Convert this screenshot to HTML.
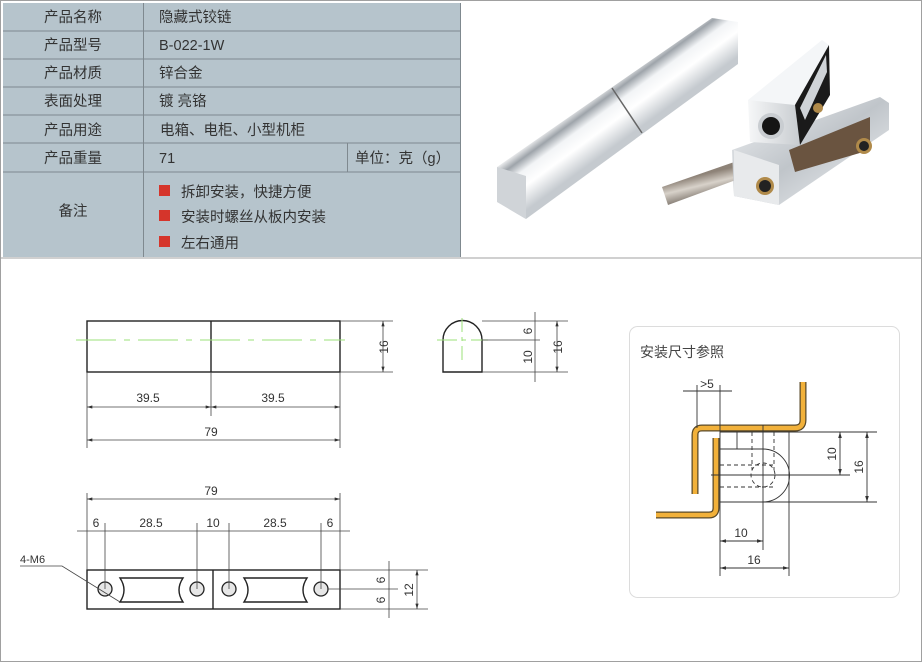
<!DOCTYPE html>
<html><head><meta charset="utf-8"><style>
body{margin:0;background:#fff;width:922px;height:662px;overflow:hidden;font-family:"Liberation Sans","Noto Sans CJK SC",sans-serif}
svg{position:absolute;left:0;top:0}
</style></head><body>
<svg width="922" height="662" viewBox="0 0 922 662" font-family="Liberation Sans, Noto Sans CJK SC, sans-serif">
<defs>
<linearGradient id="cyl" gradientUnits="userSpaceOnUse" x1="590" y1="80" x2="630" y2="135"><stop offset="0" stop-color="#d8dce0"/><stop offset="0.2" stop-color="#ffffff"/><stop offset="0.35" stop-color="#9ea4aa"/><stop offset="0.5" stop-color="#f2f4f6"/><stop offset="0.7" stop-color="#ffffff"/><stop offset="1" stop-color="#c5cacf"/></linearGradient>
<linearGradient id="m2" x1="0" y1="0" x2="1" y2="1"><stop offset="0" stop-color="#f0f2f4"/><stop offset="0.5" stop-color="#c0c5ca"/><stop offset="1" stop-color="#f4f6f8"/></linearGradient>
<linearGradient id="m3" x1="0" y1="0" x2="1" y2="0"><stop offset="0" stop-color="#f6f7f8"/><stop offset="1" stop-color="#c8ccd0"/></linearGradient>
<linearGradient id="pin" gradientUnits="userSpaceOnUse" x1="700" y1="175" x2="706" y2="200"><stop offset="0" stop-color="#8e8378"/><stop offset="0.4" stop-color="#d8d2ca"/><stop offset="1" stop-color="#6e655c"/></linearGradient>
<marker id="a" viewBox="0 0 10 6" refX="10" refY="3" markerWidth="8" markerHeight="4" orient="auto-start-reverse"><path d="M0 0 L10 3 L0 6 Z" fill="#333"/></marker>
</defs>
<rect x="0.5" y="0.5" width="921" height="661" fill="none" stroke="#a0a0a0"/>
<line x1="0" y1="258" x2="922" y2="258" stroke="#a0a0a0"/>
<!-- table -->
<rect x="3" y="3" width="457" height="254" fill="#b6c4cc"/>
<g stroke="#7f898f" stroke-width="1">
<line x1="3" y1="31" x2="460" y2="31"/><line x1="3" y1="59" x2="460" y2="59"/><line x1="3" y1="87" x2="460" y2="87"/>
<line x1="3" y1="115" x2="460" y2="115"/><line x1="3" y1="143" x2="460" y2="143"/><line x1="3" y1="172" x2="460" y2="172"/>
<line x1="143.5" y1="3" x2="143.5" y2="257"/><line x1="347.5" y1="143" x2="347.5" y2="172"/>
<line x1="460.5" y1="3" x2="460.5" y2="257"/>
</g>
<g font-size="14.5" fill="#333">
<text x="73" y="22" text-anchor="middle">产品名称</text>
<text x="73" y="50" text-anchor="middle">产品型号</text>
<text x="73" y="78" text-anchor="middle">产品材质</text>
<text x="73" y="106" text-anchor="middle">表面处理</text>
<text x="73" y="135" text-anchor="middle">产品用途</text>
<text x="73" y="163" text-anchor="middle">产品重量</text>
<text x="73" y="216" text-anchor="middle">备注</text>
<text x="159" y="22">隐藏式铰链</text>
<text x="159" y="50">B-022-1W</text>
<text x="159" y="78">锌合金</text>
<text x="159" y="106">镀 亮铬</text>
<text x="160" y="135">电箱、电柜、小型机柜</text>
<text x="159" y="163">71</text>
<text x="355" y="163">单位：克（g）</text>
<text x="181" y="197">拆卸安装，快捷方便</text>
<text x="181" y="222">安装时螺丝从板内安装</text>
<text x="181" y="248">左右通用</text>
</g>
<rect x="159" y="185" width="11" height="11" fill="#d5352b"/>
<rect x="159" y="210" width="11" height="11" fill="#d5352b"/>
<rect x="159" y="236" width="11" height="11" fill="#d5352b"/>
<!-- photo: hinge body -->
<polygon points="497,167 712,18 738,22 738,64 526,219 497,202" fill="url(#cyl)"/>
<polygon points="497,167 526,176 526,219 497,202" fill="#d0d4d8"/>
<line x1="612" y1="88" x2="642" y2="133" stroke="#666" stroke-width="1.5"/>
<!-- pin -->
<polygon points="662,187 740,160 744,177 668,205" fill="url(#pin)"/>
<!-- lower block -->
<polygon points="732,150 880,97 889,103 889,130 779,205 734,196" fill="url(#m2)"/>
<polygon points="789,150 870,117 870,150 795,172" fill="#6a5440"/>
<polygon points="734,150 779,165 779,205 734,196" fill="#e8eaec"/>
<circle cx="765" cy="186" r="9" fill="#b08a4a"/><circle cx="765" cy="186" r="6" fill="#222"/>
<circle cx="864" cy="146" r="8" fill="#b08a4a"/><circle cx="864" cy="146" r="5" fill="#222"/>
<!-- upper block -->
<polygon points="748,100 822,40 829,45 795,110 750,120" fill="#f4f6f8"/>
<polygon points="748,100 795,105 800,145 750,142" fill="url(#m3)"/>
<polygon points="795,105 829,45 830,95 800,145" fill="#1a1a1a"/>
<polygon points="800,108 826,55 827,72 805,120" fill="#cfd3d7"/>
<circle cx="771" cy="126" r="13" fill="#c9cdd1"/><circle cx="771" cy="126" r="9" fill="#151515"/>
<circle cx="818" cy="108" r="5" fill="#b08a4a"/>
<!-- top view -->
<g fill="none" stroke="#222" stroke-width="1.4">
<rect x="87" y="321" width="253" height="51"/><line x1="211" y1="321" x2="211" y2="372"/>
<path d="M443 372 V340 A19.5 19.5 0 0 1 482 340 V372 Z"/>
</g>
<g stroke="#9be07a" stroke-width="1" fill="none">
<path d="M76 340 H345" stroke-dasharray="40 8 6 8"/>
<line x1="437" y1="340" x2="488" y2="340" stroke-dasharray="20 5 4 5"/>
<line x1="462" y1="318" x2="462" y2="365" stroke-dasharray="14 5 4 5"/>
</g>
<g stroke="#444" stroke-width="0.8" fill="none">
<line x1="340" y1="321" x2="393" y2="321"/><line x1="340" y1="372" x2="393" y2="372"/>
<line x1="383" y1="321" x2="383" y2="372" marker-start="url(#a)" marker-end="url(#a)"/>
<line x1="87" y1="372" x2="87" y2="448"/><line x1="340" y1="372" x2="340" y2="448"/><line x1="211" y1="372" x2="211" y2="416"/>
<line x1="87" y1="407" x2="211" y2="407" marker-start="url(#a)" marker-end="url(#a)"/>
<line x1="211" y1="407" x2="340" y2="407" marker-start="url(#a)" marker-end="url(#a)"/>
<line x1="87" y1="440" x2="340" y2="440" marker-start="url(#a)" marker-end="url(#a)"/>
<line x1="482" y1="321" x2="568" y2="321"/><line x1="482" y1="372" x2="568" y2="372"/><line x1="482" y1="340" x2="540" y2="340"/>
<line x1="535" y1="312" x2="535" y2="382"/><line x1="557" y1="321" x2="557" y2="372" marker-start="url(#a)" marker-end="url(#a)"/>
</g>
<g font-size="12" fill="#333">
<text x="148" y="402" text-anchor="middle">39.5</text><text x="273" y="402" text-anchor="middle">39.5</text>
<text x="211" y="436" text-anchor="middle">79</text>
<text transform="translate(388,347) rotate(-90)" text-anchor="middle">16</text>
<text transform="translate(532,331) rotate(-90)" text-anchor="middle">6</text>
<text transform="translate(532,357) rotate(-90)" text-anchor="middle">10</text>
<text transform="translate(562,347) rotate(-90)" text-anchor="middle">16</text>
</g>
<!-- bottom view -->
<g fill="none" stroke="#222" stroke-width="1.4">
<rect x="87" y="570" width="253" height="39"/><line x1="213" y1="570" x2="213" y2="609"/>
<path d="M120 578 H183 Q175 590 183 602 H120 Q128 590 120 578 Z"/>
<path d="M244 578 H307 Q299 590 307 602 H244 Q252 590 244 578 Z"/>
</g>
<g fill="#e6e6e6" stroke="#222" stroke-width="1.3">
<circle cx="105" cy="589" r="7"/><circle cx="197" cy="589" r="7"/><circle cx="229" cy="589" r="7"/><circle cx="321" cy="589" r="7"/>
</g>
<g stroke="#444" stroke-width="0.8" fill="none">
<line x1="87" y1="493" x2="87" y2="570"/><line x1="340" y1="493" x2="340" y2="570"/>
<line x1="87" y1="499" x2="340" y2="499" marker-start="url(#a)" marker-end="url(#a)"/><line x1="77" y1="531" x2="350" y2="531"/>
<line x1="105" y1="523" x2="105" y2="589"/><line x1="197" y1="523" x2="197" y2="589"/>
<line x1="229" y1="523" x2="229" y2="589"/><line x1="321" y1="523" x2="321" y2="589"/>
<line x1="340" y1="570" x2="428" y2="570"/><line x1="340" y1="609" x2="428" y2="609"/><line x1="328" y1="589" x2="398" y2="589"/>
<line x1="389" y1="561" x2="389" y2="618"/><line x1="417" y1="570" x2="417" y2="609" marker-start="url(#a)" marker-end="url(#a)"/>
<path d="M20 566 H62 L120 602"/>
</g>
<g font-size="12" fill="#333">
<text x="211" y="495" text-anchor="middle">79</text>
<text x="96" y="527" text-anchor="middle">6</text><text x="151" y="527" text-anchor="middle">28.5</text>
<text x="213" y="527" text-anchor="middle">10</text><text x="275" y="527" text-anchor="middle">28.5</text>
<text x="330" y="527" text-anchor="middle">6</text>
<text x="20" y="563" font-size="11">4-M6</text>
<text transform="translate(385,580) rotate(-90)" text-anchor="middle">6</text>
<text transform="translate(385,600) rotate(-90)" text-anchor="middle">6</text>
<text transform="translate(413,590) rotate(-90)" text-anchor="middle">12</text>
</g>
<!-- install box -->
<rect x="629.5" y="326.5" width="270" height="271" rx="8" fill="#fff" stroke="#dcdcdc"/>
<text x="640" y="357" font-size="14" fill="#444">安装尺寸参照</text>
<g fill="none" stroke-linecap="butt">
<path d="M803 382 V420 Q803 428 795 428 H702 Q695 428 695 435 V494" stroke="#5a4a2a" stroke-width="7"/>
<path d="M803 382 V420 Q803 428 795 428 H702 Q695 428 695 435 V494" stroke="#f2b13a" stroke-width="4.5"/>
<path d="M716 438 V508 Q716 515 709 515 H656" stroke="#5a4a2a" stroke-width="7"/>
<path d="M716 438 V508 Q716 515 709 515 H656" stroke="#f2b13a" stroke-width="4.5"/>
</g>
<g stroke="#333" stroke-width="0.9" fill="none">
<line x1="720" y1="432" x2="877" y2="432"/><line x1="720" y1="502" x2="877" y2="502"/>
<line x1="720" y1="432" x2="720" y2="576"/><line x1="789" y1="432" x2="789" y2="576"/>
<line x1="737" y1="432" x2="737" y2="449"/>
<path d="M720 449 H763 A26.5 26.5 0 0 1 763 502"/>
<line x1="763" y1="425" x2="763" y2="550"/>
<line x1="711" y1="475" x2="850" y2="475"/>
<line x1="720" y1="541" x2="763" y2="541" marker-start="url(#a)" marker-end="url(#a)"/>
<line x1="720" y1="568" x2="789" y2="568" marker-start="url(#a)" marker-end="url(#a)"/>
<line x1="840" y1="432" x2="840" y2="475" marker-start="url(#a)" marker-end="url(#a)"/>
<line x1="867" y1="432" x2="867" y2="502" marker-start="url(#a)" marker-end="url(#a)"/>
<line x1="697" y1="385" x2="697" y2="428"/><line x1="720" y1="385" x2="720" y2="432"/>
<line x1="683" y1="391" x2="732" y2="391"/>
</g>
<g stroke="#333" stroke-width="0.9" fill="none" stroke-dasharray="4 3">
<line x1="720" y1="465" x2="775" y2="465"/><line x1="720" y1="487" x2="775" y2="487"/>
<line x1="752" y1="432" x2="752" y2="470"/><line x1="774" y1="432" x2="774" y2="470"/>
<circle cx="763" cy="475" r="12"/>
</g>
<g font-size="12" fill="#333">
<text x="707" y="388" text-anchor="middle">&gt;5</text>
<text x="741" y="537" text-anchor="middle">10</text>
<text x="754" y="564" text-anchor="middle">16</text>
<text transform="translate(836,454) rotate(-90)" text-anchor="middle">10</text>
<text transform="translate(863,467) rotate(-90)" text-anchor="middle">16</text>
</g>
</svg>
</body></html>
